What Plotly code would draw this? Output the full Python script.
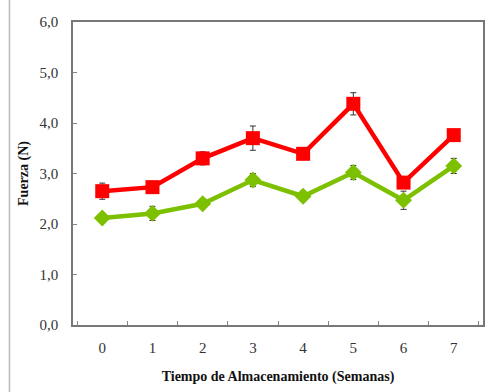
import plotly.graph_objects as go

semanas = ["0", "1", "2", "3", "4", "5", "6", "7"]
fuerza_rojo = [2.65, 2.73, 3.30, 3.70, 3.39, 4.38, 2.82, 3.76]
error_rojo = [0.16, 0.10, 0.13, 0.24, 0.08, 0.22, 0.08, 0.08]
fuerza_verde = [2.12, 2.21, 2.40, 2.87, 2.55, 3.02, 2.47, 3.15]
error_verde = [0.07, 0.14, 0.09, 0.13, 0.10, 0.14, 0.18, 0.15]

fig = go.Figure()

fig.add_trace(go.Scatter(
    x=semanas, y=fuerza_verde, mode="lines+markers",
    line=dict(color="#7cc000", width=4.5),
    marker=dict(symbol="diamond", size=13, color="#7cc000"),
    error_y=dict(type="data", array=error_verde, color="#333333", thickness=1, width=3),
    showlegend=False,
))
fig.add_trace(go.Scatter(
    x=semanas, y=fuerza_rojo, mode="lines+markers",
    line=dict(color="#ff0000", width=4.5),
    marker=dict(symbol="square", size=14, color="#ff0000"),
    error_y=dict(type="data", array=error_rojo, color="#333333", thickness=1, width=3),
    showlegend=False,
))

serif = "Liberation Serif"

fig.update_layout(
    width=486, height=392,
    margin=dict(l=73, r=1, t=22, b=67),
    paper_bgcolor="white", plot_bgcolor="white",
    separators=",.",
    font=dict(family=serif, size=15, color="#333333"),
    xaxis=dict(
        type="category", tickson="boundaries", ticks="inside", ticklen=4,
        tickcolor="#888888", showline=True, linecolor="#777777", linewidth=1.5,
        mirror=True, showgrid=False, zeroline=False, ticklabelstandoff=8,
        tickfont=dict(family=serif, size=15, color="#333333"),
        title=dict(text="<b>Tiempo de Almacenamiento (Semanas)</b>",
                   font=dict(family=serif, size=14, color="#111111"), standoff=16),
    ),
    yaxis=dict(
        range=[0, 6], dtick=1, tickformat=".1f", ticks="inside", ticklen=4,
        tickcolor="#888888", showline=True, linecolor="#777777", linewidth=1.5,
        mirror=True, showgrid=False, zeroline=False, ticklabelstandoff=10,
        tickfont=dict(family=serif, size=15, color="#333333"),
        title=dict(text="<b>Fuerza (N)</b>",
                   font=dict(family=serif, size=14, color="#111111"), standoff=8),
    ),
    shapes=[dict(type="line", xref="paper", yref="paper",
                 x0=-0.155, x1=-0.155, y0=-0.25, y1=1.08,
                 line=dict(color="#bbbbbb", width=1.5))],
)

fig.write_html("out.html")
